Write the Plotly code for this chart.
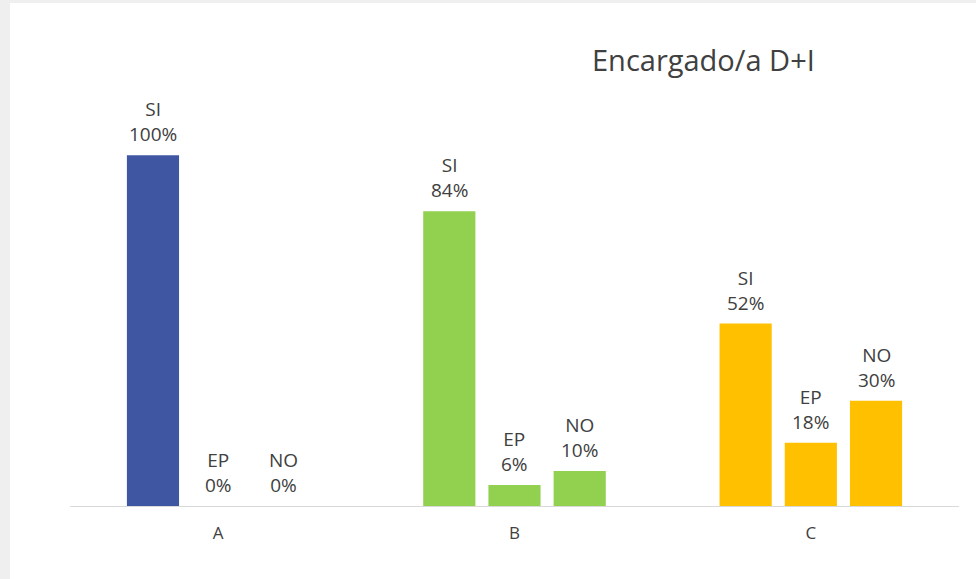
import plotly.graph_objects as go

categories = ["A", "B", "C"]
series_names = ["SI", "EP", "NO"]
si_values = [100, 84, 52]
ep_values = [0, 6, 18]
no_values = [0, 10, 30]
group_colors = ["#3f56a3", "#92d050", "#ffc000"]
title_text = "Encargado/a D+I"

values_by_series = [si_values, ep_values, no_values]

BARGAP = 0.34
n_series = len(series_names)
slot = (1 - BARGAP) / n_series

fig = go.Figure()
annotations = []
for j, (name, vals) in enumerate(zip(series_names, values_by_series)):
    fig.add_trace(go.Bar(
        x=categories,
        y=vals,
        name=name,
        marker=dict(color=group_colors, line=dict(width=0)),
        hoverinfo="skip",
    ))
    for i, v in enumerate(vals):
        annotations.append(dict(
            x=i + (j - (n_series - 1) / 2) * slot, y=v,
            xref="x", yref="y",
            text=f"{name}<br>{v}%",
            showarrow=False, xanchor="center", yanchor="bottom", yshift=6,
            font=dict(family="Open Sans", size=19, color="#404040"),
        ))

annotations.append(dict(text=title_text, xref="paper", yref="paper",
                        x=(703 - 70) / 889, y=(506 - 59) / 421,
                        xanchor="center", yanchor="middle", showarrow=False,
                        font=dict(family="Open Sans", size=29, color="#404040")))

fig.update_layout(
    width=976, height=579,
    barmode="group",
    bargap=BARGAP,
    bargroupgap=0.2,
    showlegend=False,
    paper_bgcolor="#efefef",
    plot_bgcolor="white",
    margin=dict(l=70, r=17, t=85, b=73),
    font=dict(family="Open Sans", color="#404040"),
    shapes=[dict(type="rect", xref="paper", yref="paper",
                 x0=-0.0675, x1=1.2, y0=-0.5, y1=1.1948,
                 fillcolor="white", line=dict(width=0), layer="below")],
    annotations=annotations,
)
fig.update_xaxes(showline=True, linecolor="#d9d9d9", linewidth=1,
                 showgrid=False, ticks="", range=[-0.5, 2.5],
                 ticklabelstandoff=12,
                 tickfont=dict(family="Open Sans", size=17, color="#404040"))
fig.update_yaxes(visible=False, range=[0, 120], showgrid=False, zeroline=False)

fig.write_html("out.html", config={"displayModeBar": False},
               post_script="document.body.style.margin='0';document.body.style.overflow='hidden';")
